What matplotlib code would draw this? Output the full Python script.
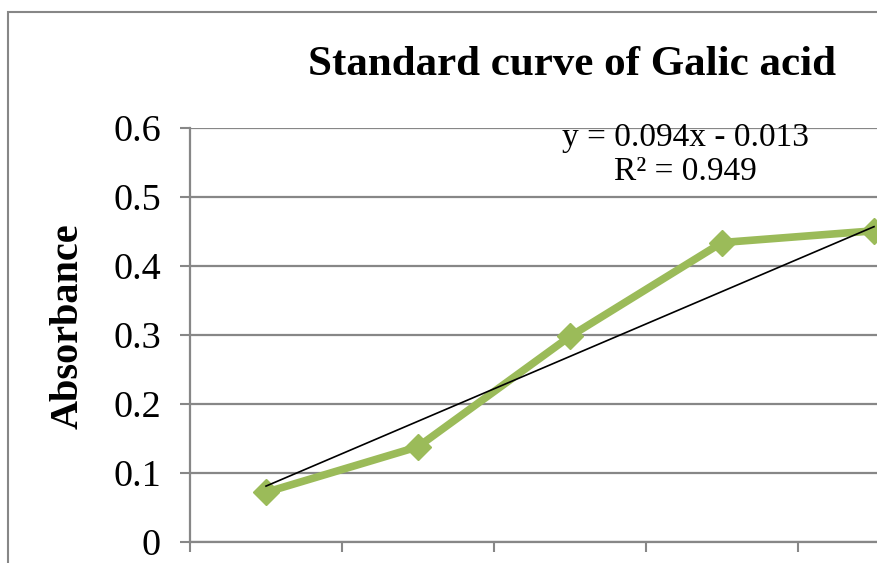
import matplotlib
matplotlib.use('Agg')
import matplotlib.pyplot as plt
from matplotlib.patches import Rectangle
import numpy as np

# gallic acid standards, absorbance per standard (category axis 1..5)
standards = [1, 2, 3, 4, 5]
absorbance = [0.072, 0.138, 0.298, 0.434, 0.451]

# linear trendline reported for the series
slope, intercept, r2 = 0.094, -0.013, 0.949

y_ticks = [0, 0.1, 0.2, 0.3, 0.4, 0.5, 0.6]
y_ticklabels = ['0', '0.1', '0.2', '0.3', '0.4', '0.5', '0.6']

green = '#9BBB59'
grey = '#878787'
plt.rcParams['font.family'] = ['Liberation Serif', 'DejaVu Serif']

W, H = 877, 563
fig = plt.figure(figsize=(W / 100, H / 100), dpi=100)

# chart border (runs off the right and bottom edges)
fig.patches.append(Rectangle((8 / W, -0.1), 1.2, 1 - 12 / H + 0.1, transform=fig.transFigure,
                             fill=False, edgecolor=grey, linewidth=1.5))

ax = fig.add_axes([190 / W, (H - 542) / H, 760 / W, 414 / H])
ax.set_xlim(0.5, 5.5)
ax.set_ylim(0, 0.6)

ax.set_yticks(y_ticks)
ax.set_yticklabels(y_ticklabels, fontsize=27.5)
ax.set_xticks(np.arange(0.5, 5.6, 1.0))
ax.set_xticklabels([])
ax.tick_params(axis='both', direction='out', length=7, width=1.5, color=grey, pad=14)
ax.grid(axis='y', color=grey, linewidth=1.6)
ax.set_axisbelow(True)
for side in ['top', 'right']:
    ax.spines[side].set_visible(False)
for side in ['left', 'bottom']:
    ax.spines[side].set_color(grey)
    ax.spines[side].set_linewidth(1.6)

ax.plot(standards, absorbance, color=green, linewidth=5.5, marker='D', markersize=13.5,
        clip_on=False, zorder=3)

xs = np.array([standards[0], standards[-1]])
ax.plot(xs, slope * xs + intercept, color='black', linewidth=1.2, zorder=4, clip_on=False)

ax.set_ylabel('Absorbance', fontsize=29, fontweight='bold', va='center')
ax.yaxis.set_label_coords((68 - 190) / 760, (542 - 326) / 414)

fig.text(572 / W, 1 - 65 / H, 'Standard curve of Galic acid', fontsize=31, fontweight='bold',
         ha='center', va='center')
fig.text(685 / W, 1 - 138 / H, f'y = {slope}x - {abs(intercept)}', fontsize=24,
         ha='center', va='center')
fig.text(685 / W, 1 - 172 / H, f'R² = {r2}', fontsize=24, ha='center', va='center')

fig.savefig('out.png', dpi=100)
